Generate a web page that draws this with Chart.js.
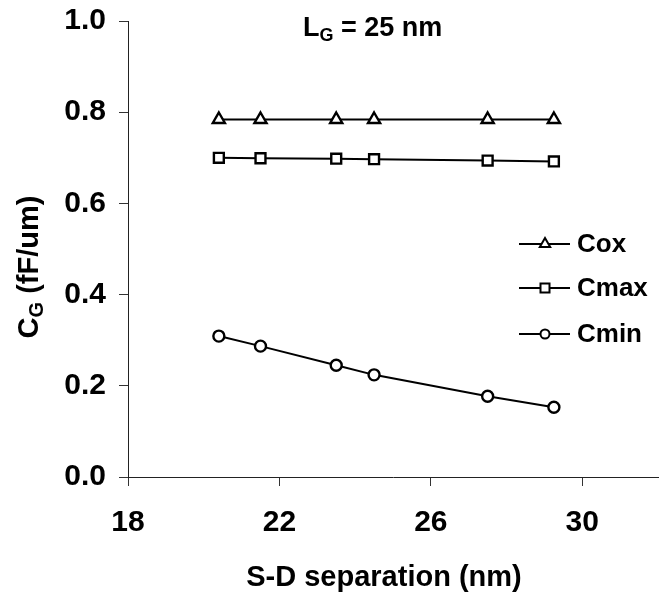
<!DOCTYPE html>
<html>
<head>
<meta charset="utf-8">
<script src="https://cdn.jsdelivr.net/npm/chart.js@4/dist/chart.umd.min.js"></script>
<style>
  html, body { margin: 0; padding: 0; background: #fff; }
  #wrap { width: 659px; height: 593px; }
</style>
</head>
<body>
<div id="wrap"><canvas id="myChart" width="659" height="593"></canvas></div>
<script>
'use strict';

// S-D separation (nm)
const sdSeparation = [20.4, 21.5, 23.5, 24.5, 27.5, 29.25];
// gate capacitance (fF/um)
const cox  = [0.784, 0.784, 0.784, 0.784, 0.784, 0.784];
const cmax = [0.700, 0.699, 0.698, 0.697, 0.694, 0.692];
const cmin = [0.309, 0.287, 0.245, 0.224, 0.177, 0.153];

const xTicks = [18, 22, 26, 30];
const yTicks = [0, 0.2, 0.4, 0.6, 0.8, 1.0];

const FONT = '"Liberation Sans", Arial, sans-serif';

function toPoints(ys) {
  return sdSeparation.map(function(x, i) { return {x: x, y: ys[i]}; });
}

function series(label, ys, style, radius) {
  return {
    label: label,
    data: toPoints(ys),
    borderColor: '#000',
    borderWidth: 2,
    pointStyle: style,
    pointRadius: radius,
    pointBorderWidth: 2.4,
    pointBackgroundColor: '#fff',
    pointBorderColor: '#000',
    tension: 0,
    fill: false,
  };
}

// draws one marker for the legend
function marker(ctx, style, x, y) {
  ctx.beginPath();
  if (style === 'triangle') {
    ctx.moveTo(x, y - 6);
    ctx.lineTo(x + 5.2, y + 3);
    ctx.lineTo(x - 5.2, y + 3);
    ctx.closePath();
  } else if (style === 'rect') {
    ctx.rect(x - 4.5, y - 4.5, 9, 9);
  } else {
    ctx.arc(x, y, 4.5, 0, Math.PI * 2);
  }
  ctx.fillStyle = '#fff';
  ctx.fill();
  ctx.stroke();
}

const textPlugin = {
  id: 'texts',
  afterDraw: function(chart) {
    const ctx = chart.ctx;
    ctx.save();
    ctx.fillStyle = '#000';
    ctx.textBaseline = 'alphabetic';
    ctx.textAlign = 'left';

    // title L_G = 25 nm
    let x = 303;
    ctx.font = 'bold 27px ' + FONT;
    ctx.fillText('L', x, 36);
    x += ctx.measureText('L').width;
    ctx.font = 'bold 18px ' + FONT;
    ctx.fillText('G', x, 41);
    x += ctx.measureText('G').width;
    ctx.font = 'bold 27px ' + FONT;
    ctx.fillText(' = 25 nm', x, 36);

    // x axis title
    ctx.font = 'bold 29px ' + FONT;
    ctx.textAlign = 'center';
    ctx.fillText('S-D separation (nm)', 384, 586);

    // y axis title, rotated
    ctx.save();
    ctx.translate(38, 267);
    ctx.rotate(-Math.PI / 2);
    ctx.textAlign = 'left';
    ctx.font = 'bold 29px ' + FONT;
    let total = ctx.measureText('C').width + ctx.measureText(' (fF/um)').width;
    ctx.font = 'bold 20px ' + FONT;
    total += ctx.measureText('G').width;
    let yx = -total / 2;
    ctx.font = 'bold 29px ' + FONT;
    ctx.fillText('C', yx, 0);
    yx += ctx.measureText('C').width;
    ctx.font = 'bold 20px ' + FONT;
    ctx.fillText('G', yx, 5);
    yx += ctx.measureText('G').width;
    ctx.font = 'bold 29px ' + FONT;
    ctx.fillText(' (fF/um)', yx, 0);
    ctx.restore();

    // legend
    const items = [['Cox', 'triangle', 244], ['Cmax', 'rect', 288], ['Cmin', 'circle', 334]];
    ctx.strokeStyle = '#000';
    ctx.lineWidth = 2;
    ctx.textAlign = 'left';
    ctx.textBaseline = 'middle';
    ctx.font = 'bold 26px ' + FONT;
    for (let item of items) {
      const ly = item[2];
      ctx.beginPath();
      ctx.moveTo(519, ly);
      ctx.lineTo(570, ly);
      ctx.stroke();
      marker(ctx, item[1], 545, ly);
      ctx.fillStyle = '#000';
      ctx.fillText(item[0], 577, ly + 1);
    }
    ctx.restore();
  }
};

const ctx = document.getElementById('myChart').getContext('2d');
new Chart(ctx, {
  type: 'line',
  data: {
    datasets: [
      series('Cox', cox, 'triangle', 7),
      series('Cmax', cmax, 'rect', 7),
      series('Cmin', cmin, 'circle', 5.5),
    ]
  },
  options: {
    responsive: false,
    animation: false,
    layout: {autoPadding: false, padding: {top: 21, right: 1, left: 0, bottom: 0}},
    plugins: {
      legend: {display: false},
      tooltip: {enabled: false},
    },
    scales: {
      x: {
        type: 'linear',
        min: 18,
        max: 32,
        afterBuildTicks: function(axis) {
          axis.ticks = xTicks.map(function(v) { return {value: v}; });
        },
        afterFit: function(scale) {
          scale.height = 116;
          scale.paddingLeft = 0;
          scale.paddingRight = 0;
        },
        grid: {drawOnChartArea: false, drawTicks: true, tickLength: 9, color: '#333', lineWidth: 1},
        border: {display: true, color: '#222', width: 1},
        ticks: {
          color: '#000',
          padding: 19,
          maxRotation: 0,
          font: {family: FONT, size: 30, weight: 'bold'},
        },
      },
      y: {
        min: 0,
        max: 1,
        afterBuildTicks: function(axis) {
          axis.ticks = yTicks.map(function(v) { return {value: v}; });
        },
        afterFit: function(scale) {
          scale.width = 128;
          scale.paddingTop = 0;
          scale.paddingBottom = 0;
        },
        grid: {drawOnChartArea: false, drawTicks: true, tickLength: 9, color: '#333', lineWidth: 1},
        border: {display: true, color: '#222', width: 1},
        ticks: {
          color: '#000',
          padding: 13,
          font: {family: FONT, size: 30, weight: 'bold'},
          callback: function(v) { return Number(v).toFixed(1); },
        },
      },
    },
  },
  plugins: [textPlugin],
});
</script>
</body>
</html>
